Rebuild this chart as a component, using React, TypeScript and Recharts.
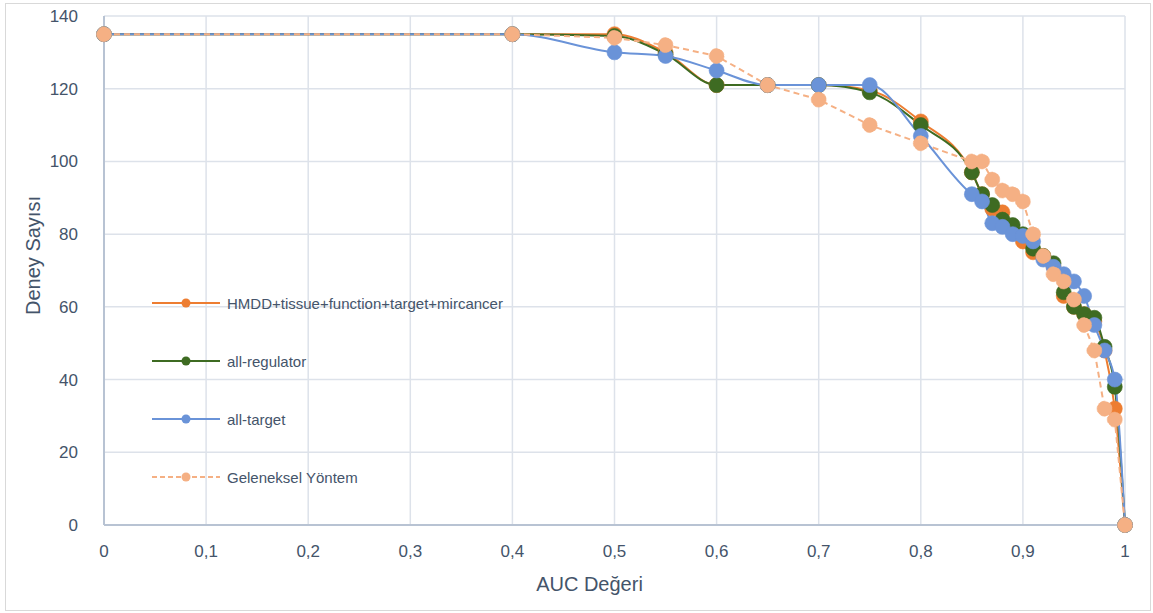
import { LineChart, Line, XAxis, YAxis, CartesianGrid } from "recharts";

const aucValues = [0, 0.4, 0.5, 0.55, 0.6, 0.65, 0.7, 0.75, 0.8, 0.85, 0.86, 0.87, 0.88, 0.89, 0.9, 0.91, 0.92, 0.93, 0.94, 0.95, 0.96, 0.97, 0.98, 0.99, 1];

const hmddSeries = [135, 135, 135, 130, 121, 121, 121, 119.5, 111, 97, 91, 87, 86, 81, 78, 75, 74, 71, 63, 60, 58, 56, 48, 32, 0];
const regulatorSeries = [135, 135, 134.5, 129.5, 121, 121, 121, 119, 110, 97, 91, 88, 84, 82.5, 80, 76, 74, 72, 64, 60, 58, 57, 49, 38, 0];
const targetSeries = [135, 135, 130, 129, 125, 121, 121, 121, 107, 91, 89, 83, 82, 80, 79.5, 78, 73, 71, 69, 67, 63, 55, 48, 40, 0];
const gelenekselSeries = [135, 135, 134, 132, 129, 121, 117, 110, 105, 100, 100, 95, 92, 91, 89, 80, 74, 69, 67, 62, 55, 48, 32, 29, 0];

const xTicks = [0, 0.1, 0.2, 0.3, 0.4, 0.5, 0.6, 0.7, 0.8, 0.9, 1];
const yTicks = [0, 20, 40, 60, 80, 100, 120, 140];

const series = [
    { key: "hmdd", name: "HMDD+tissue+function+target+mircancer", color: "#ED7D31", dashed: false },
    { key: "regulator", name: "all-regulator", color: "#3E6B22", dashed: false },
    { key: "target", name: "all-target", color: "#6A93D8", dashed: false },
    { key: "geleneksel", name: "Geleneksel Yöntem", color: "#F5B084", dashed: true },
];

const data = aucValues.map((x, i) => ({
    x,
    hmdd: hmddSeries[i],
    regulator: regulatorSeries[i],
    target: targetSeries[i],
    geleneksel: gelenekselSeries[i],
}));

const textColor = "#44546A";
const font = "'Liberation Sans', Arial, sans-serif";

// legend sits inside the plot area, drawn as an overlay so it doesn't shrink the plot
function LegendBox() {
    return (
        <div style={{ position: "absolute", left: 152, top: 274, fontFamily: font }}>
            {series.map((s) => (
                <div key={s.key} style={{ display: "flex", alignItems: "center", height: 58 }}>
                    <svg width={70} height={12}>
                        <line x1={0} y1={6} x2={68} y2={6} stroke={s.color} strokeWidth={2} strokeDasharray={s.dashed ? "5 3" : undefined} />
                        <circle cx={34} cy={6} r={4.5} fill={s.color} />
                    </svg>
                    <span style={{ marginLeft: 5, fontSize: 15, color: textColor }}>{s.name}</span>
                </div>
            ))}
        </div>
    );
}

export default function App() {
    return (
        <div style={{ position: "absolute", left: 0, top: 0, width: 1153, height: 613, background: "#fff" }}>
            <div style={{ position: "absolute", left: 5, top: 3, width: 1146, height: 608, border: "1px solid #d9d9d9", boxSizing: "border-box" }} />
            <LineChart
                width={1153}
                height={613}
                data={data}
                margin={{ top: 16, right: 28, bottom: 0, left: 0 }}
                style={{ fontFamily: font }}
            >
                <CartesianGrid stroke="#dde2ea" strokeWidth={1.5} />
                <XAxis
                    dataKey="x"
                    type="number"
                    domain={[0, 1]}
                    ticks={xTicks}
                    tickFormatter={(v: number) => String(v).replace(".", ",")}
                    height={88}
                    axisLine={{ stroke: "#b8c3d3", strokeWidth: 2 }}
                    tickLine={false}
                    tick={{ fill: textColor, fontSize: 17 }}
                    tickMargin={14}
                    label={{ value: "AUC Değeri", position: "insideBottom", offset: 22, dx: -25, fill: textColor, fontSize: 20 }}
                />
                <YAxis
                    type="number"
                    domain={[0, 140]}
                    ticks={yTicks}
                    width={104}
                    axisLine={{ stroke: "#b8c3d3", strokeWidth: 2 }}
                    tickLine={false}
                    tick={{ fill: textColor, fontSize: 17 }}
                    tickMargin={20}
                    label={{ value: "Deney Sayısı", angle: -90, position: "insideLeft", offset: 33, dy: -15, fill: textColor, fontSize: 20, style: { textAnchor: "middle" } }}
                />
                {series.map((s) => (
                    <Line
                        key={s.key}
                        dataKey={s.key}
                        name={s.name}
                        type={s.dashed ? "linear" : "monotone"}
                        stroke={s.color}
                        strokeWidth={2}
                        strokeDasharray={s.dashed ? "6 4" : undefined}
                        dot={{ r: 7.5, fill: s.color, stroke: s.color, strokeOpacity: 0.6, strokeWidth: 1 }}
                        activeDot={false}
                        isAnimationActive={false}
                    />
                ))}
            </LineChart>
            <LegendBox />
        </div>
    );
}
